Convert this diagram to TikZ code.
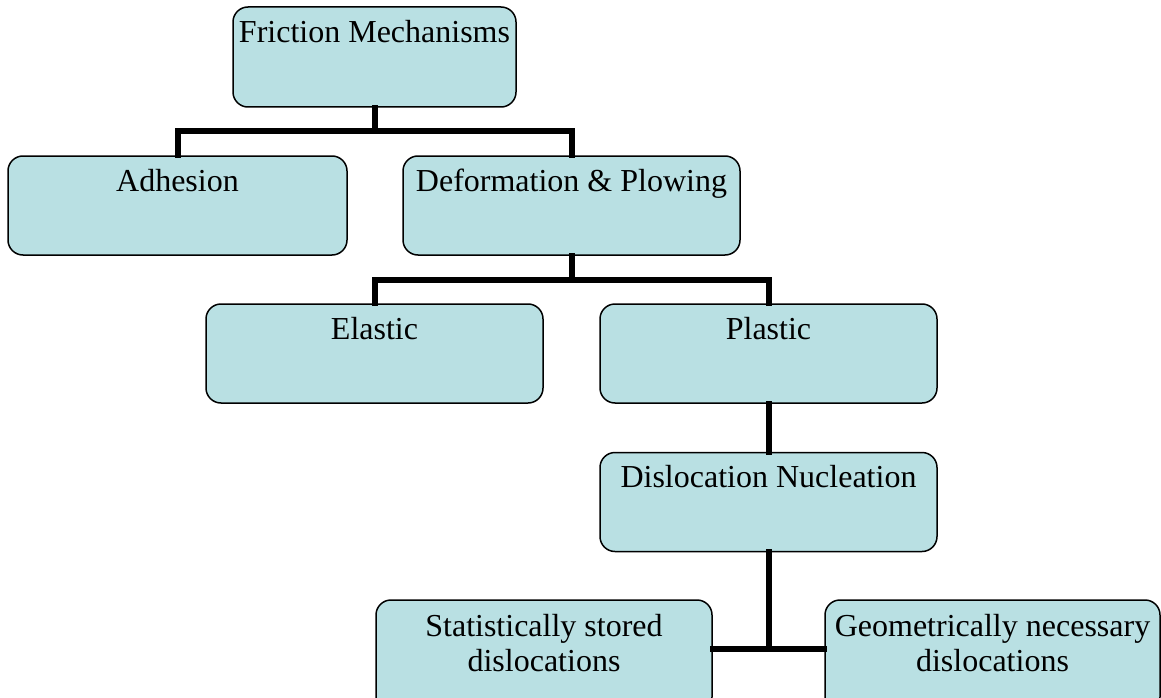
\documentclass[tikz,border=0pt]{standalone}
\usepackage{fontspec}
\setmainfont{Liberation Serif}
\usetikzlibrary{calc}
\definecolor{boxfill}{RGB}{185,224,227}
\tikzset{
  box/.style={draw=black, line width=1.5pt, fill=boxfill, rounded corners=15pt,
    minimum width=337pt, minimum height=99pt, inner sep=0pt},
  txt/.style={font=\fontsize{32}{35}\selectfont, anchor=base, inner sep=0pt},
  conn/.style={line width=6pt, line join=miter, line cap=rect}
}
\begin{document}
\begin{tikzpicture}[x=1pt,y=-1pt]
\useasboundingbox (0,0) rectangle (1161,698);
% boxes
\node[box, minimum width=283pt, minimum height=100pt] (fm) at (374.5,57) {};
\node[box, minimum width=339pt] (ad) at (177.5,205.5) {};
\node[box] (dp) at (571.5,205.5) {};
\node[box] (el) at (374.5,353.5) {};
\node[box] (pl) at (768.5,353.5) {};
\node[box] (dn) at (768.5,502) {};
\node[box, minimum width=336pt, minimum height=112pt] (ss) at (544,656) {};
\node[box, minimum width=335pt, minimum height=112pt] (gn) at (992.5,656) {};
% texts
\node[txt] (fmT) at ($(fm.north)+(0,36)$) {Friction Mechanisms};
\node[txt] (adT) at ($(ad.north)+(0,36)$) {Adhesion};
\node[txt] (dpT) at ($(dp.north)+(0,36)$) {Deformation \& Plowing};
\node[txt] (elT) at ($(el.north)+(0,36)$) {Elastic};
\node[txt] (plT) at ($(pl.north)+(0,36)$) {Plastic};
\node[txt] (dnT) at ($(dn.north)+(0,36)$) {Dislocation Nucleation};
\node[txt] (ssT1) at ($(ss.north)+(0,37)$) {Statistically stored};
\node[txt] (ssT2) at ($(ss.north)+(0,72)$) {dislocations};
\node[txt] (gnT1) at ($(gn.north)+(0,37)$) {Geometrically necessary};
\node[txt] (gnT2) at ($(gn.north)+(0,72)$) {dislocations};
% junctions
\coordinate (j1) at (374.5,131);
\coordinate (j2) at (571.5,280);
\coordinate (j3) at (768.5,649);
% connectors
\draw[conn] (fm.south) -- (j1);
\draw[conn] (ad.north) |- (j1) -| (dp.north);
\draw[conn] (dp.south) -- (j2);
\draw[conn] (el.north) |- (j2) -| (pl.north);
\draw[conn] (pl.south) -- (dn.north);
\draw[conn] (ss.east |- j3) -- (gn.west |- j3);
\draw[conn] (dn.south) -- (j3);
\end{tikzpicture}
\end{document}
